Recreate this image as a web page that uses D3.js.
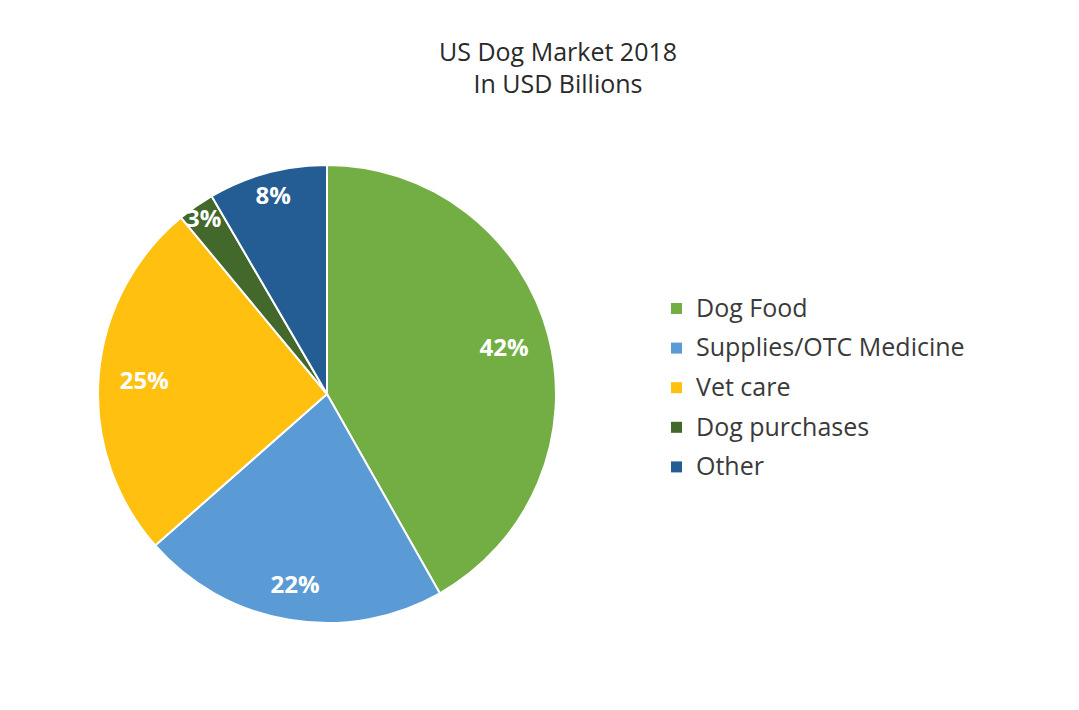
<!DOCTYPE html>
<html>
<head>
<meta charset="utf-8">
<script src="https://cdn.jsdelivr.net/npm/d3@7"></script>
<style>
  body { margin: 0; background: #fff; }
  svg { display: block; font-family: "Open Sans", sans-serif; }
</style>
</head>
<body>
<div id="chart"></div>
<script>
// chart data
var categories = ["Dog Food", "Supplies/OTC Medicine", "Vet care", "Dog purchases", "Other"];
var shares = [41.8, 21.7, 25.5, 2.6, 8.4];
var pctLabels = ["42%", "22%", "25%", "3%", "8%"];
var colors = ["#72AE43", "#5B9BD5", "#FFC010", "#43682B", "#235D93"];
var titleLines = ["US Dog Market 2018", "In USD Billions"];

var w = 1079, h = 710;
var cx = 327, cy = 394, r = 229;

var svg = d3.select("#chart").append("svg")
  .attr("width", w)
  .attr("height", h);

// title
svg.selectAll("text.title")
  .data(titleLines)
  .enter()
  .append("text")
  .attr("class", "title")
  .attr("x", 558)
  .attr("y", function(d, i) { return 61 + i * 32; })
  .attr("text-anchor", "middle")
  .style("font-size", "25px")
  .style("fill", "#2a2a2a")
  .text(function(d) { return d; });

var pie = d3.pie().sort(null).startAngle(0).endAngle(2 * Math.PI);
var arcs = pie(shares);
var arc = d3.arc().innerRadius(0).outerRadius(r);

var g = svg.append("g").attr("transform", "translate(" + cx + "," + cy + ")");

g.selectAll("path")
  .data(arcs)
  .enter()
  .append("path")
  .attr("d", arc)
  .style("fill", function(d, i) { return colors[i]; })
  .style("stroke", "#fff")
  .style("stroke-width", 2);

// narrower slices get their label pushed outward, like Excel best-fit
function labelRadius(d) {
  var span = d.endAngle - d.startAngle;
  if (span < 0.2) return r * 0.94;
  if (span < 0.6) return r * 0.9;
  if (span < 1.5) return r * 0.84;
  return r * 0.8;
}

g.selectAll("text.pct")
  .data(arcs)
  .enter()
  .append("text")
  .attr("class", "pct")
  .attr("transform", function(d) {
    var lr = labelRadius(d);
    var c = d3.arc().innerRadius(lr).outerRadius(lr).centroid(d);
    return "translate(" + c[0] + "," + c[1] + ")";
  })
  .attr("text-anchor", "middle")
  .attr("dy", "0.38em")
  .style("font-size", "24px")
  .style("font-weight", "bold")
  .style("fill", "#fff")
  .text(function(d, i) { return pctLabels[i]; });

// legend
var legend = svg.append("g").attr("transform", "translate(671,308)");
var rows = legend.selectAll("g")
  .data(categories)
  .enter()
  .append("g")
  .attr("transform", function(d, i) { return "translate(0," + (i * 39.6) + ")"; });

rows.append("rect")
  .attr("x", 0)
  .attr("y", -5)
  .attr("width", 11)
  .attr("height", 11)
  .style("fill", function(d, i) { return colors[i]; });

rows.append("text")
  .attr("x", 25)
  .attr("dy", "0.35em")
  .style("font-size", "25px")
  .style("fill", "#3a3a3a")
  .text(function(d) { return d; });
</script>
</body>
</html>
